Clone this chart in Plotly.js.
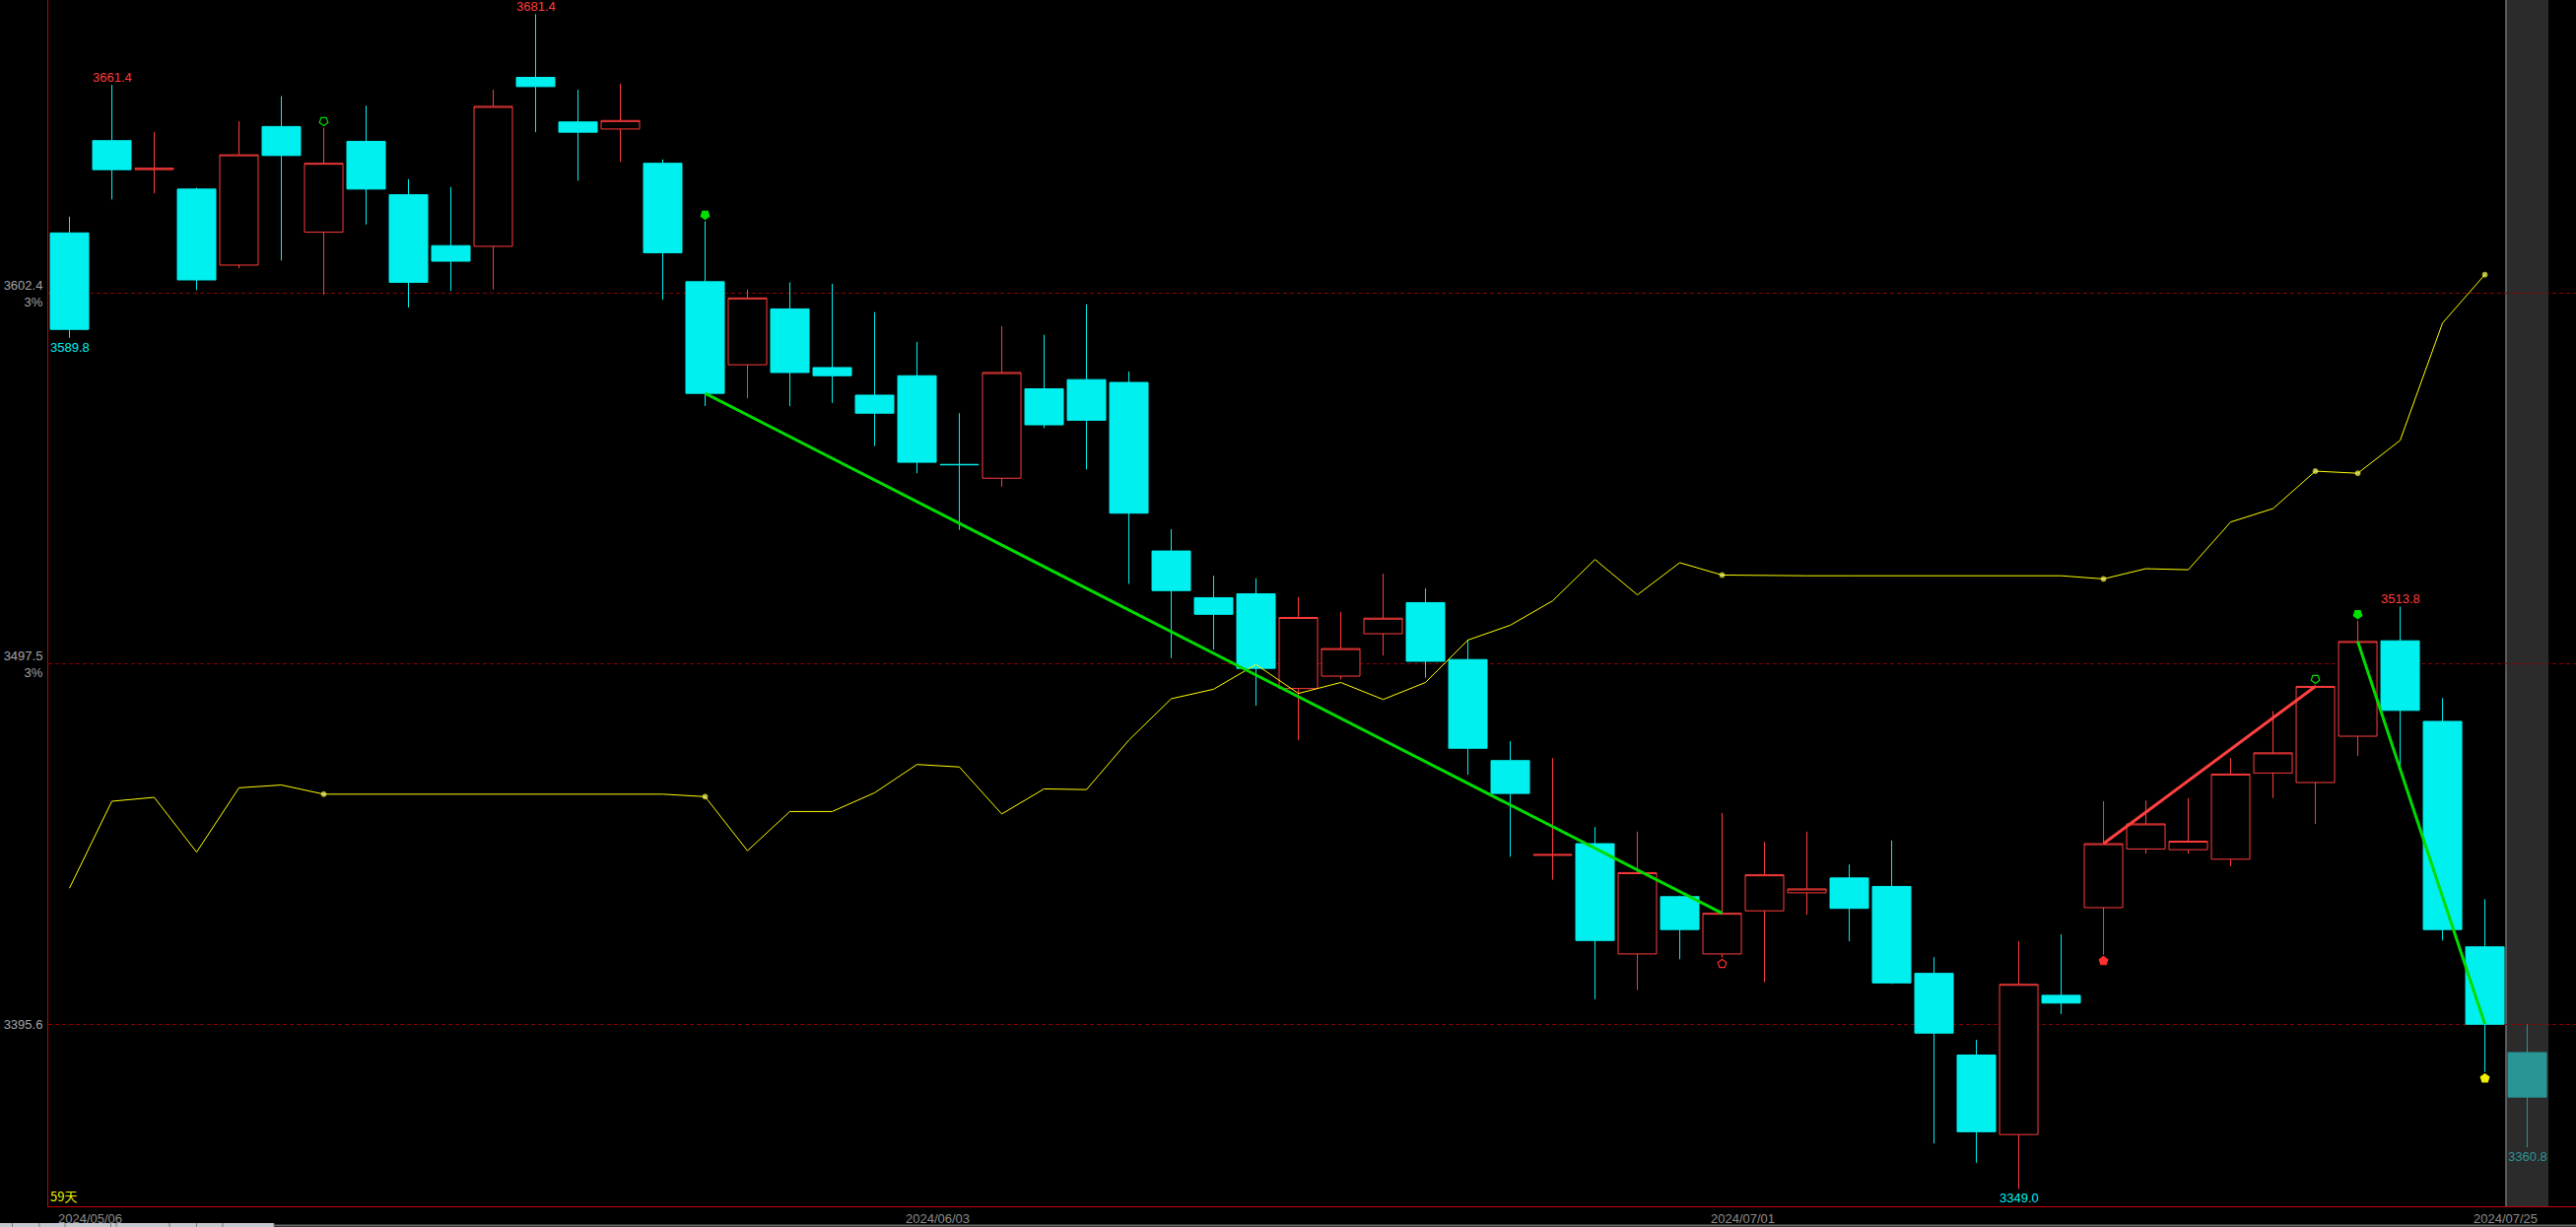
<!DOCTYPE html>
<html><head><meta charset="utf-8">
<script src="https://cdn.plot.ly/plotly-3.0.1.min.js"></script>
<style>html,body{margin:0;padding:0;background:#000;overflow:hidden}#chart{width:2614px;height:1245px}</style>
</head><body><div id="chart"></div>
<script>
// ---------------- data ----------------
const dates = ['2024/05/06','2024/05/07','2024/05/08','2024/05/09','2024/05/10','2024/05/13','2024/05/14','2024/05/15','2024/05/16','2024/05/17',
  '2024/05/20','2024/05/21','2024/05/22','2024/05/23','2024/05/24','2024/05/27','2024/05/28','2024/05/29','2024/05/30','2024/05/31',
  '2024/06/03','2024/06/04','2024/06/05','2024/06/06','2024/06/07','2024/06/11','2024/06/12','2024/06/13','2024/06/14','2024/06/17',
  '2024/06/18','2024/06/19','2024/06/20','2024/06/21','2024/06/24','2024/06/25','2024/06/26','2024/06/27','2024/06/28','2024/07/01',
  '2024/07/02','2024/07/03','2024/07/04','2024/07/05','2024/07/08','2024/07/09','2024/07/10','2024/07/11','2024/07/12','2024/07/15',
  '2024/07/16','2024/07/17','2024/07/18','2024/07/19','2024/07/22','2024/07/23','2024/07/24','2024/07/25','2024/07/26'];
const open = [3619.5,3645.6,3637.4,3631.9,3610.4,3649.6,3619.7,3645.4,3630.3,3615.9,
  3615.7,3663.5,3650.9,3648.9,3639.2,3605.7,3582.2,3598.0,3581.4,3573.6,
  3579.1,3554.0,3550.1,3575.4,3578.0,3577.2,3529.5,3516.3,3517.4,3490.6,
  3494.1,3506.1,3514.9,3498.8,3470.2,3443.4,3446.7,3415.5,3431.7,3415.5,
  3427.7,3432.8,3437.0,3434.6,3410.0,3386.9,3364.4,3403.8,3428.6,3445.2,
  3445.0,3442.3,3466.7,3464.0,3477.1,3504.1,3481.3,3417.5,3387.6];
const high = [3624.1,3661.4,3648.0,3632.3,3651.1,3658.2,3649.3,3655.5,3634.7,3632.5,
  3660.0,3681.4,3660.0,3661.7,3640.3,3622.8,3603.5,3605.5,3605.1,3597.1,
  3588.7,3568.5,3593.1,3590.7,3599.3,3580.3,3535.7,3522.5,3521.8,3516.5,
  3512.3,3523.1,3518.9,3504.5,3475.7,3470.9,3451.4,3450.1,3432.0,3455.4,
  3447.2,3450.1,3440.8,3447.6,3414.6,3391.2,3419.1,3421.0,3458.7,3458.9,
  3459.6,3470.9,3484.2,3491.5,3509.8,3513.8,3487.9,3431.0,3395.6];
const low = [3589.8,3629.0,3630.7,3603.3,3609.5,3611.7,3602.0,3621.9,3598.4,3603.1,
  3603.5,3648.0,3634.3,3639.6,3600.6,3570.5,3572.7,3570.5,3571.4,3559.2,
  3551.5,3535.5,3547.7,3564.3,3552.6,3520.2,3499.2,3501.6,3485.7,3476.0,
  3493.2,3499.9,3493.7,3466.2,3443.0,3436.5,3402.7,3405.3,3414.0,3414.5,
  3407.5,3426.6,3419.1,3407.0,3361.9,3356.4,3349.0,3398.5,3415.3,3443.9,
  3443.9,3440.3,3459.6,3452.3,3471.5,3468.4,3419.3,3382.1,3360.8];
const close = [3592.2,3637.4,3637.8,3606.2,3641.6,3641.4,3639.2,3631.9,3605.5,3611.5,
  3655.3,3660.9,3648.0,3651.3,3613.9,3574.1,3601.1,3580.0,3579.1,3568.5,
  3554.6,3553.9,3580.0,3565.2,3566.5,3540.2,3518.3,3511.6,3496.3,3510.7,
  3501.9,3510.5,3498.3,3473.7,3460.9,3443.6,3419.3,3438.5,3422.4,3427.0,
  3437.9,3433.9,3428.4,3407.3,3393.1,3365.2,3406.9,3401.6,3446.7,3452.3,
  3447.4,3466.4,3472.4,3491.2,3503.9,3484.4,3422.4,3395.6,3375.0];
// yellow indicator line (one value per completed day)
const signalLine = [3434.1,3458.7,3459.8,3444.3,3462.5,3463.3,3460.7,3460.7,3460.7,3460.7,
  3460.7,3460.7,3460.7,3460.7,3460.7,3460.0,3444.7,3455.8,3455.8,3461.1,
  3469.1,3468.4,3455.1,3462.2,3462.0,3476.0,3487.7,3490.4,3497.4,3489.2,
  3492.3,3487.5,3492.3,3504.3,3508.5,3515.4,3527.1,3517.1,3526.2,3522.7,
  3522.5,3522.5,3522.5,3522.5,3522.5,3522.5,3522.5,3522.5,3521.6,3524.5,
  3524.2,3537.7,3541.5,3552.1,3551.5,3560.8,3594.0,3607.7];
const signalDots = [6,15,39,48,53,54,57];
// trend lines between closes of two days
const trendFrom = [15,48,54];
const trendTo = [39,53,57];
const trendColors = ['#00dc00','#ff4040','#00dc00'];
// signal arrows
const arrowDays = [6,15,39,48,53,54,57];
const arrowSide = ['high','high','low','low','high','high','low'];
const arrowColors = ['#00e000','#00e000','#ff3030','#ff3030','#00e000','#00e000','#f0f000'];
const arrowFilled = [false,true,false,true,false,true,true];
// price labels
const labelDays = [0,1,11,46,55,58];
const labelSide = ['low','high','high','low','high','low'];
// axis ticks
const yTicks = [3395.6,3497.5,3602.4];
const yTickText = ['3395.6','3497.5<br>3%','3602.4<br>3%'];
const dateTicks = ['2024/05/06','2024/06/03','2024/07/01','2024/07/25'];
const periodLabel = '59天';

// ---------------- styles ----------------
const W = 2614, H = 1245, ML = 49, MB = 21;
const UP = '#ff3c3c', DOWN = '#00f0f0', LAST = '#2a9595';
const FONT = 'Liberation Sans, Arial, sans-serif';
const markPad = 1.8;

const n = dates.length;
const lastIdx = n - 1;
const idxDone = dates.slice(0, lastIdx);

const traces = [];
traces.push({
  type:'candlestick', x: idxDone, open: open.slice(0,lastIdx), high: high.slice(0,lastIdx),
  low: low.slice(0,lastIdx), close: close.slice(0,lastIdx), whiskerwidth:0,
  increasing:{line:{color:UP,width:1}, fillcolor:'#000000'},
  decreasing:{line:{color:DOWN,width:1}, fillcolor:DOWN},
  hoverinfo:'skip'
});
traces.push({
  type:'candlestick', x:[dates[lastIdx]], open:[open[lastIdx]], high:[high[lastIdx]],
  low:[low[lastIdx]], close:[close[lastIdx]], whiskerwidth:0,
  increasing:{line:{color:LAST,width:1}, fillcolor:'#2b2b2b'},
  decreasing:{line:{color:LAST,width:1}, fillcolor:LAST},
  hoverinfo:'skip'
});
traces.push({
  type:'scatter', mode:'lines+markers', x: idxDone, y: signalLine,
  line:{color:'#ffff00', width:1},
  marker:{color:'#ffff99', size: idxDone.map((d,i)=> signalDots.includes(i) ? 5 : 0)},
  hoverinfo:'skip'
});
trendFrom.forEach((a,k)=>{
  const b = trendTo[k];
  traces.push({type:'scatter', mode:'lines', x:[dates[a],dates[b]], y:[close[a],close[b]],
    line:{color:trendColors[k], width:3}, hoverinfo:'skip'});
});
arrowDays.forEach((i,k)=>{
  const up = arrowSide[k]==='low';
  const y = up ? low[i] - markPad : high[i] + markPad;
  traces.push({type:'scatter', mode:'markers', x:[dates[i]], y:[y],
    marker:{symbol: arrowFilled[k] ? 'pentagon' : 'pentagon-open', angle: up ? 0 : 180, size:9,
      color: arrowColors[k], line:{color:arrowColors[k], width:1.2}}, hoverinfo:'skip'});
});

const annotations = labelDays.map((i,k)=>{
  const isHigh = labelSide[k]==='high';
  const col = i===lastIdx ? LAST : (isHigh ? UP : DOWN);
  return {x: dates[i], y: isHigh ? high[i] : low[i], xref:'x', yref:'y', showarrow:false,
    text: (isHigh ? high[i] : low[i]).toFixed(1), yanchor: isHigh ? 'bottom':'top',
    font:{family:FONT, size:13, color:col}, borderpad:0, yshift: isHigh ? -1 : -1};
});
annotations.push({x:0, y:0, xref:'paper', yref:'paper', xanchor:'left', yanchor:'bottom',
  text: periodLabel, showarrow:false, borderpad:0, xshift:1,
  font:{family:'Noto Sans CJK SC, Liberation Sans, sans-serif', size:13, color:'#f0f000'}});

// helpers: pixel -> paper coordinates for the frame decorations
const PW = W - ML, PH = H - MB;
const px = v => (v - ML) / PW;
const py = v => (PH - v) / PH;

const shapes = [
  {type:'rect', xref:'x', yref:'paper', x0:lastIdx-0.5, x1:lastIdx+0.5, y0:0, y1:1,
    fillcolor:'#2b2b2b', line:{width:0}, layer:'below'},
  {type:'line', xref:'x', yref:'paper', x0:lastIdx-0.5, x1:lastIdx-0.5, y0:0, y1:1,
    line:{color:'#5c5c5c', width:2}, layer:'below'},
  // bottom status strip (tab bar edge)
  {type:'line', xref:'paper', yref:'paper', x0:px(0), x1:px(W), y0:py(1243.5), y1:py(1243.5),
    line:{color:'#6a6a6a', width:2}, layer:'above'},
  {type:'rect', xref:'paper', yref:'paper', x0:px(0), x1:px(278), y0:py(1245), y1:py(1241),
    fillcolor:'#c4cad0', line:{width:0}, layer:'above'}
];
[12.5, 40, 66, 112.5, 118, 172, 199.5, 226, 278].forEach(xv=>{
  shapes.push({type:'line', xref:'paper', yref:'paper', x0:px(xv), x1:px(xv), y0:py(1245), y1:py(1241),
    line:{color:'#7a7a7a', width:1}, layer:'above'});
});

const layout = {
  width:W, height:H, paper_bgcolor:'#000000', plot_bgcolor:'#000000',
  margin:{l:ML, r:0, t:0, b:MB, pad:0}, showlegend:false,
  boxmode:'overlay', boxgap:0.093, boxgroupgap:0,
  xaxis:{type:'category', categoryorder:'array', categoryarray:dates, range:[-0.5, 59.15],
    showgrid:false, zeroline:false, showline:true, linecolor:'#c80000', linewidth:1,
    ticks:'', tickvals:dateTicks, ticktext:dateTicks, ticklabelshift:21, ticklabelstandoff:0,
    tickfont:{family:FONT, size:13, color:'#8c8c8c'}, rangeslider:{visible:false}, fixedrange:true},
  yaxis:{range:[3344.1, 3685.4], showgrid:true, gridcolor:'#8c0000', griddash:'4px,3px', gridwidth:1,
    zeroline:false, showline:true, linecolor:'#c80000', linewidth:1, ticks:'',
    tickvals:yTicks, ticktext:yTickText, ticklabelstandoff:2,
    tickfont:{family:FONT, size:13, color:'#a0a4a8'}, fixedrange:true},
  shapes: shapes, annotations: annotations
};
Plotly.newPlot('chart', traces, layout, {staticPlot:true, displayModeBar:false});
</script></body></html>
